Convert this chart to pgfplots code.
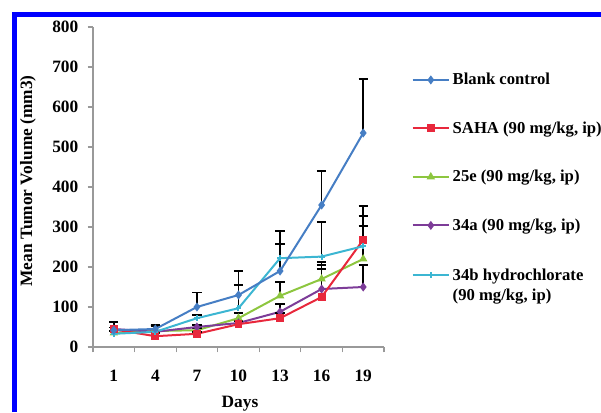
\documentclass[border=0pt]{standalone}
\usepackage{pgfplots}
\pgfplotsset{compat=1.18}
\usepackage{fontspec}
\setmainfont{Liberation Serif}
\definecolor{cBlue}{RGB}{70,126,196}
\definecolor{cRed}{RGB}{232,40,60}
\definecolor{cGreen}{RGB}{141,198,63}
\definecolor{cPurple}{RGB}{125,60,152}
\definecolor{cCyan}{RGB}{60,182,210}
\definecolor{frameblue}{RGB}{0,0,255}
\newcommand\f{\fontsize{13}{15}\selectfont\bfseries}
\newcommand\lf{\fontsize{12.5}{14.5}\selectfont\bfseries}
\begin{document}
\begin{tikzpicture}
\path[use as bounding box] (-69.75pt,-48.75pt) rectangle (381pt,260.25pt);
\draw[frameblue, line width=3.75pt] (-58.875pt,-48.75pt) -- (-58.875pt,251.25pt);
\draw[frameblue, line width=3.75pt] (-60.75pt,249.375pt) -- (381pt,249.375pt);
\begin{axis}[
  scale only axis, width=218.25pt, height=240pt,
  xmin=0.5, xmax=7.5, ymin=0, ymax=800,
  axis lines=left, axis line style={-, draw=gray!80, line width=0.8pt},
  xtick={1,2,3,4,5,6,7},
  xticklabels={1,4,7,10,13,16,19},
  minor xtick={0.5,1.5,...,7.5},
  major x tick style={draw=none},
  minor tick length=4pt,
  ytick={0,100,...,800},
  major tick length=4pt,
  tick align=outside,
  tick style={draw=gray!80, line width=0.8pt},
  /pgf/number format/assume math mode=true,
  tick label style={font=\f},
  yticklabel style={xshift=-3.5pt},
  xticklabel style={yshift=-9.5pt},
  xlabel={Days}, ylabel={Mean Tumor Volume (mm3)},
  label style={font=\f},
  xlabel style={at={(axis description cs:0.505,-0.178)}, anchor=center},
  ylabel style={at={(axis description cs:-0.2234,0.519)}, anchor=center},
  every axis plot/.append style={line width=1.5pt, mark size=2.2pt, error bars/y dir=plus, error bars/y explicit, error bars/error bar style={black, line width=1.2pt}, error bars/error mark options={black, line width=1.2pt, mark size=3.5pt, rotate=90}},
]
\addplot[cGreen, mark=triangle*, mark options={solid, fill=cGreen}] coordinates {
 (1,35) +- (0,5) (2,40) +- (0,12) (3,42) +- (0,5) (4,72) +- (0,13) (5,128) +- (0,34) (6,170) +- (0,43) (7,220) +- (0,82)};
\addplot[cPurple, mark=diamond*, mark options={solid, fill=cPurple}] coordinates {
 (1,45) +- (0,4) (2,38) +- (0,15) (3,50) +- (0,5) (4,60) +- (0,5) (5,88) +- (0,20) (6,145) +- (0,50) (7,150) +- (0,55)};
\addplot[cRed, mark=square*, mark options={solid, fill=cRed}] coordinates {
 (1,44) +- (0,5) (2,27) +- (0,8) (3,33) +- (0,5) (4,57) +- (0,8) (5,72) +- (0,13) (6,125) +- (0,80) (7,268) +- (0,85)};
\addplot[cCyan, mark=+, mark options={solid}] coordinates {
 (1,33) +- (0,6) (2,38) +- (0,14) (3,72) +- (0,8) (4,97) +- (0,58) (5,222) +- (0,35) (6,226) +- (0,87) (7,252) +- (0,75)};
\addplot[cBlue, mark=diamond*, mark options={solid, fill=cBlue}] coordinates {
 (1,42) +- (0,21) (2,45) +- (0,10) (3,100) +- (0,36) (4,130) +- (0,60) (5,190) +- (0,100) (6,355) +- (0,85) (7,535) +- (0,135)};
\end{axis}
\begin{axis}[
  scale only axis, width=218.25pt, height=240pt,
  xmin=0.5, xmax=7.5, ymin=0, ymax=800, hide axis,
  legend style={draw=none, fill=none, font=\lf, at={(axis description cs:1.094,0.865)}, anchor=north west, row sep=22.2pt, inner sep=0pt, /tikz/every even column/.append style={column sep=0pt}},
  legend cell align=left,
  legend image code/.code={\draw[mark repeat=2,mark phase=2] plot coordinates {(0cm,0cm)(0.48cm,0cm)(0.96cm,0cm)};},
  every axis plot/.append style={line width=1.5pt, mark size=2.2pt},
]
\addlegendimage{cBlue, mark=diamond*, mark options={solid, fill=cBlue}}
\addlegendentry{Blank control}
\addlegendimage{cRed, mark=square*, mark options={solid, fill=cRed}}
\addlegendentry{SAHA (90 mg/kg, ip)}
\addlegendimage{cGreen, mark=triangle*, mark options={solid, fill=cGreen}}
\addlegendentry{25e (90 mg/kg, ip)}
\addlegendimage{cPurple, mark=diamond*, mark options={solid, fill=cPurple}}
\addlegendentry{34a (90 mg/kg, ip)}
\addlegendimage{cCyan, mark=+, mark options={solid}}
\addlegendentry{\begin{tabular}[t]{@{}l@{}}34b hydrochlorate\\(90 mg/kg, ip)\end{tabular}}
\end{axis}
\end{tikzpicture}
\end{document}
